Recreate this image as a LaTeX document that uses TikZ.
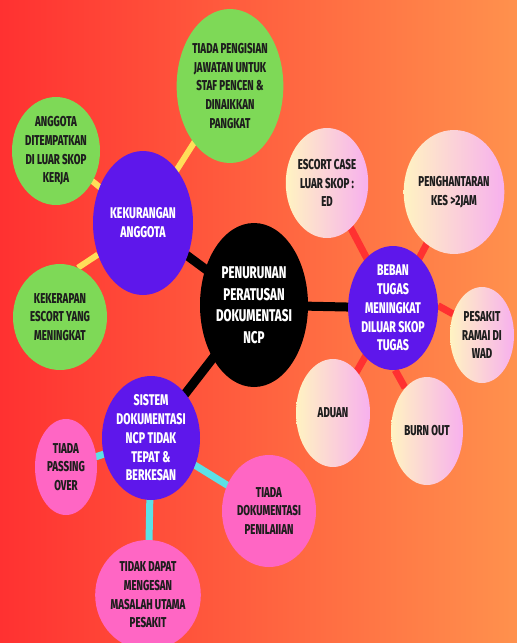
\documentclass[tikz,border=0pt]{standalone}
\usepackage{fontspec}
\setmainfont{Fira Sans}[FakeStretch=0.68, BoldFont={Fira Sans ExtraBold}]
\usetikzlibrary{shapes.geometric}
\definecolor{bgL}{HTML}{FF3131}
\definecolor{bgR}{HTML}{FF914D}
\definecolor{cgreen}{HTML}{7ED957}
\definecolor{cpurple}{HTML}{5E17EB}
\definecolor{cpink}{HTML}{FF66C4}
\definecolor{cyel}{HTML}{FFDE59}
\definecolor{cred}{HTML}{FF3131}
\definecolor{ccyan}{HTML}{5CE1E6}
\definecolor{gL}{HTML}{FFF3C2}
\definecolor{gR}{HTML}{F7B0EE}
\definecolor{ink}{HTML}{1E1E1E}
\pgfdeclarelayer{bg}
\pgfdeclarelayer{edges}
\pgfsetlayers{bg,edges,main}
\tikzset{
  bubble/.style={ellipse, inner sep=0pt, align=center, font=\bfseries},
  sat/.style={bubble, text=ink, font=\bfseries\fontsize{14.3}{18.6}\selectfont},
  hub/.style={bubble, fill=cpurple, text=white, font=\bfseries\fontsize{15.5}{18.8}\selectfont},
  core/.style={bubble, fill=black, text=white, font=\bfseries\fontsize{17}{21.5}\selectfont},
  greenb/.style={sat, fill=cgreen},
  pinkb/.style={sat, fill=cpink},
  gradb/.style={sat, left color=gL, right color=gR},
  sz/.style 2 args={minimum width=#1pt, minimum height=#2pt},
  yline/.style={cyel, line width=6pt},
  rline/.style={cred, line width=7pt},
  cline/.style={ccyan, line width=7pt},
  kline/.style={black, line width=9pt}
}
\begin{document}
\begin{tikzpicture}[x=1pt,y=-1pt]
\useasboundingbox (0,0) rectangle (517,643);
\begin{pgfonlayer}{bg}
\fill[left color=bgL, right color=bgR] (0,0) rectangle (517,643);
\end{pgfonlayer}

% core
\node[core, sz={108}{164}] (core) at (254,305) {PENURUNAN\\PERATUSAN\\DOKUMENTASI\\NCP};

% hubs
\node[hub, sz={100}{144}] (kek) at (143,223) {KEKURANGAN\\ANGGOTA};
\node[hub, sz={86}{124}] (beban) at (393,308) {BEBAN\\TUGAS\\MENINGKAT\\DILUAR SKOP\\TUGAS};
\node[hub, sz={98}{124}] (sistem) at (151,438) {SISTEM\\DOKUMENTASI\\NCP TIDAK\\TEPAT \&\\BERKESAN};

% green satellites
\node[greenb, sz={106}{154}] (pengisian) at (230,86) {TIADA PENGISIAN\\JAWATAN UNTUK\\STAF PENCEN \&\\DINAIKKAN\\PANGKAT};
\node[greenb, sz={88}{108}] (anggota) at (56,151) {ANGGOTA\\DITEMPATKAN\\DI LUAR SKOP\\KERJA};
\node[greenb, sz={94}{106}] (kekerapan) at (60,317) {KEKERAPAN\\ESCORT YANG\\MENINGKAT};

% gradient satellites
\node[gradb, sz={82}{110}] (escort) at (327,183) {ESCORT CASE\\LUAR SKOP :\\ED};
\node[gradb, sz={98}{124}] (hantar) at (454,192) {PENGHANTARAN\\KES >2JAM};
\node[gradb, sz={64}{96}] (ramai) at (482,335) {PESAKIT\\RAMAI DI\\WAD};
\node[gradb, sz={74}{108}] (aduan) at (333,413) {ADUAN};
\node[gradb, sz={72}{108}] (burn) at (427,431) {BURN OUT};

% pink satellites
\node[pinkb, sz={62}{96}] (passing) at (66,467) {TIADA\\PASSING\\OVER};
\node[pinkb, sz={94}{112}] (dok) at (269,511) {TIADA\\DOKUMENTASI\\PENILAIIAN};
\node[pinkb, sz={104}{110}] (tidak) at (148,595) {TIDAK DAPAT\\MENGESAN\\MASALAH UTAMA\\PESAKIT};

\begin{pgfonlayer}{edges}
\draw[kline] (core.center) -- (kek.center);
\draw[kline] (core.center) -- (beban.center);
\draw[kline] (core.center) -- (sistem.center);
\draw[yline] (kek.center) -- (pengisian.center);
\draw[yline] (kek.center) -- (anggota.center);
\draw[yline] (kek.215) -- (kekerapan.70);
\draw[rline] (beban.center) -- (escort.center);
\draw[rline] (beban.center) -- (hantar.center);
\draw[rline] (beban.3) -- (ramai.144);
\draw[rline] (beban.center) -- (aduan.center);
\draw[rline] (beban.272) -- (burn.117);
\draw[cline] (sistem.center) -- (passing.center);
\draw[cline] (sistem.center) -- (dok.center);
\draw[cline] (sistem.center) -- (tidak.center);
\end{pgfonlayer}
\end{tikzpicture}
\end{document}
